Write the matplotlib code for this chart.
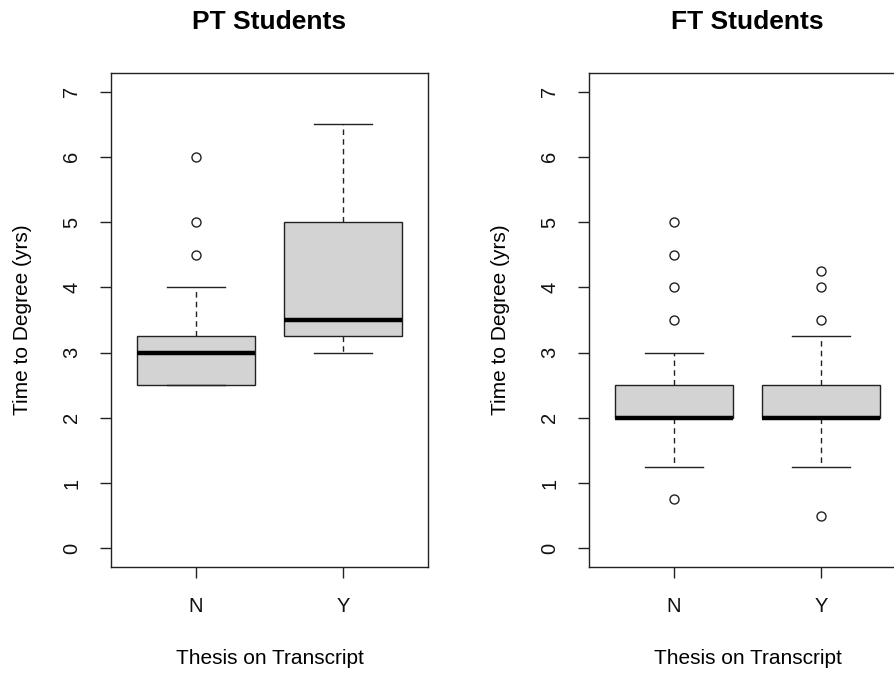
import matplotlib
matplotlib.use("Agg")
import matplotlib.pyplot as plt

plt.rcParams['font.family'] = ['Liberation Sans', 'DejaVu Sans']

groups = ["N", "Y"]

# PT students: box statistics per group
pt_q1 = [2.5, 3.25]
pt_med = [3.0, 3.5]
pt_q3 = [3.25, 5.0]
pt_lo = [2.5, 3.0]
pt_hi = [4.0, 6.5]
pt_fliers = [[4.5, 5.0, 6.0], []]

# FT students
ft_q1 = [2.0, 2.0]
ft_med = [2.0, 2.0]
ft_q3 = [2.5, 2.5]
ft_lo = [1.25, 1.25]
ft_hi = [3.0, 3.25]
ft_fliers = [[0.75, 3.5, 4.0, 4.5, 5.0], [0.5, 3.5, 4.0, 4.25]]

yticks = [0, 1, 2, 3, 4, 5, 6, 7]


def make_stats(q1, med, q3, lo, hi, fliers):
    return [dict(q1=a, med=b, q3=c, whislo=d, whishi=e, fliers=f, label=g)
            for a, b, c, d, e, f, g in zip(q1, med, q3, lo, hi, fliers, groups)]


W, H = 894, 673
ax_h = 493.4
ax_w = 317
fig = plt.figure(figsize=(W / 100, H / 100), dpi=100)
ax1 = fig.add_axes([111 / W, 1 - 566.7 / H, ax_w / W, ax_h / H])
ax2 = fig.add_axes([589 / W, 1 - 566.7 / H, ax_w / W, ax_h / H])

panels = [
    (ax1, "PT Students", make_stats(pt_q1, pt_med, pt_q3, pt_lo, pt_hi, pt_fliers)),
    (ax2, "FT Students", make_stats(ft_q1, ft_med, ft_q3, ft_lo, ft_hi, ft_fliers)),
]

for ax, title, stats in panels:
    ax.bxp(stats, positions=[1, 2], widths=0.8, patch_artist=True,
           boxprops=dict(facecolor='#d3d3d3', edgecolor='#222222', linewidth=1.0),
           medianprops=dict(color='black', linewidth=3.2, solid_capstyle='butt'),
           whiskerprops=dict(color='#222222', linewidth=1.0, linestyle=(0, (4, 3))),
           capprops=dict(color='#222222', linewidth=1.0),
           capwidths=0.4,
           flierprops=dict(marker='o', markerfacecolor='none', markeredgecolor='#222222',
                           markersize=6.5, markeredgewidth=1.0))
    ax.set_xlim(0.42, 2.58)
    ax.set_ylim(-0.28, 7.28)
    ax.set_yticks(yticks)
    ax.set_yticklabels([str(t) for t in yticks], rotation=90, va='center')
    ax.set_xticks([1, 2])
    ax.set_xticklabels(groups)
    ax.tick_params(axis='both', length=8, width=1.0, color='#222222', labelsize=14.5,
                   labelcolor='#111111')
    ax.tick_params(axis='y', pad=13.5)
    ax.tick_params(axis='x', pad=14)
    for s in ax.spines.values():
        s.set_color('#222222')
        s.set_linewidth(1.0)
    ax.set_title(title, fontsize=19, fontweight='bold', y=(566.7 - 22) / ax_h,
                 va='center', pad=0)
    ax.set_xlabel("Thesis on Transcript", fontsize=15, va='center')
    ax.xaxis.set_label_coords(0.5, (566.7 - 659) / ax_h)
    ax.set_ylabel("Time to Degree (yrs)", fontsize=15, va='center')
    ax.yaxis.set_label_coords((23 - 111) / ax_w, 0.5)

fig.savefig("out.png", dpi=100)
